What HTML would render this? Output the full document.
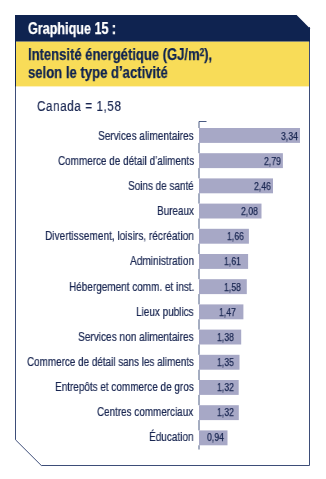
<!DOCTYPE html>
<html><head><meta charset="utf-8"><style>
html,body{margin:0;padding:0;background:#fff;width:326px;height:479px;overflow:hidden;position:relative}
.t{position:absolute;will-change:transform;font-family:"Liberation Sans",sans-serif;white-space:nowrap;line-height:1}
.h{color:#fff;-webkit-text-stroke:0.25px #fff;font-weight:bold;font-size:15.8px;transform-origin:0 0}
.y{color:#0f2350;-webkit-text-stroke:0.25px #0f2350;font-weight:bold;font-size:15.8px;transform-origin:0 0}
.c{letter-spacing:0.8px;color:#1a2752;-webkit-text-stroke:0.2px #1a2752;font-size:15.3px;transform-origin:0 0}
.l{color:#1a2752;-webkit-text-stroke:0.22px #1a2752;font-size:12.2px;transform-origin:0 0}
.v{color:#1a2752;-webkit-text-stroke:0.25px #1a2752;font-size:11px;transform-origin:0 0}
</style></head><body>
<svg width="326" height="479" style="position:absolute;left:0;top:0">
<rect x="16" y="41.4" width="293" height="45" fill="#f8dc58"/>
<path d="M15.5 41 L15.5 439.8 L41.3 465.5 L309.5 465.5 L309.5 27" fill="none" stroke="#3d4d78" stroke-width="1"/>
<path d="M15 15 L296.6 15 L310 28.4 L310 41.4 L15 41.4 Z" fill="#0f2350"/>
<line x1="15.5" y1="41" x2="15.5" y2="86.4" stroke="#0f2350" stroke-width="1"/>
<path d="M206.5 121.5 L199 121.5 L199 128.0" fill="none" stroke="#4a5a82" stroke-width="1"/>

<rect x="199" y="128.00" width="101.00" height="14.9" fill="#a7a8c6"/>
<line x1="199" y1="142.90" x2="199" y2="153.20" stroke="#4a5a82" stroke-width="1"/>
<rect x="199" y="153.20" width="83.90" height="14.9" fill="#a7a8c6"/>
<line x1="199" y1="168.10" x2="199" y2="178.40" stroke="#4a5a82" stroke-width="1"/>
<rect x="199" y="178.40" width="74.00" height="14.9" fill="#a7a8c6"/>
<line x1="199" y1="193.30" x2="199" y2="203.60" stroke="#4a5a82" stroke-width="1"/>
<rect x="199" y="203.60" width="62.50" height="14.9" fill="#a7a8c6"/>
<line x1="199" y1="218.50" x2="199" y2="228.80" stroke="#4a5a82" stroke-width="1"/>
<rect x="199" y="228.80" width="49.90" height="14.9" fill="#a7a8c6"/>
<line x1="199" y1="243.70" x2="199" y2="254.00" stroke="#4a5a82" stroke-width="1"/>
<rect x="199" y="254.00" width="49.10" height="14.9" fill="#a7a8c6"/>
<line x1="199" y1="268.90" x2="199" y2="279.20" stroke="#4a5a82" stroke-width="1"/>
<rect x="199" y="279.20" width="47.80" height="14.9" fill="#a7a8c6"/>
<line x1="199" y1="294.10" x2="199" y2="304.40" stroke="#4a5a82" stroke-width="1"/>
<rect x="199" y="304.40" width="44.40" height="14.9" fill="#a7a8c6"/>
<line x1="199" y1="319.30" x2="199" y2="329.60" stroke="#4a5a82" stroke-width="1"/>
<rect x="199" y="329.60" width="42.20" height="14.9" fill="#a7a8c6"/>
<line x1="199" y1="344.50" x2="199" y2="354.80" stroke="#4a5a82" stroke-width="1"/>
<rect x="199" y="354.80" width="40.50" height="14.9" fill="#a7a8c6"/>
<line x1="199" y1="369.70" x2="199" y2="380.00" stroke="#4a5a82" stroke-width="1"/>
<rect x="199" y="380.00" width="39.70" height="14.9" fill="#a7a8c6"/>
<line x1="199" y1="394.90" x2="199" y2="405.20" stroke="#4a5a82" stroke-width="1"/>
<rect x="199" y="405.20" width="39.80" height="14.9" fill="#a7a8c6"/>
<line x1="199" y1="420.10" x2="199" y2="430.40" stroke="#4a5a82" stroke-width="1"/>
<rect x="199" y="430.40" width="28.50" height="14.9" fill="#a7a8c6"/>
<line x1="199" y1="445.30" x2="199" y2="449.50" stroke="#4a5a82" stroke-width="1"/>
</svg>
<div class="t h" style="left:28.0px;top:20.63px;transform:scaleX(0.7966)">Graphique 15 :</div>
<div class="t y" style="left:28.0px;top:46.63px;transform:scaleX(0.825)">Intensité énergétique (GJ/m<span style="font-size:10px;position:relative;top:-4.5px">2</span>),</div>
<div class="t y" style="left:28.0px;top:64.63px;transform:scaleX(0.8294)">selon le type d’activité</div>
<div class="t c" style="left:37.0px;top:98.25px;transform:scaleX(0.76)">Canada = 1,58</div>
<div class="t l" style="left:97.87px;top:129.87px;transform:scaleX(0.8252)">Services alimentaires</div>
<div class="t v" style="left:280.80px;top:130.89px;transform:scaleX(0.79)">3,34</div>
<div class="t l" style="left:57.70px;top:154.98px;transform:scaleX(0.8138)">Commerce de détail d’aliments</div>
<div class="t v" style="left:263.60px;top:156.00px;transform:scaleX(0.79)">2,79</div>
<div class="t l" style="left:128.38px;top:180.09px;transform:scaleX(0.8152)">Soins de santé</div>
<div class="t v" style="left:253.90px;top:181.11px;transform:scaleX(0.79)">2,46</div>
<div class="t l" style="left:156.99px;top:205.20px;transform:scaleX(0.8136)">Bureaux</div>
<div class="t v" style="left:241.30px;top:206.22px;transform:scaleX(0.79)">2,08</div>
<div class="t l" style="left:45.17px;top:230.31px;transform:scaleX(0.8292)">Divertissement, loisirs, récréation</div>
<div class="t v" style="left:226.60px;top:231.33px;transform:scaleX(0.79)">1,66</div>
<div class="t l" style="left:129.80px;top:255.42px;transform:scaleX(0.8286)">Administration</div>
<div class="t v" style="left:224.30px;top:256.44px;transform:scaleX(0.79)">1,61</div>
<div class="t l" style="left:69.18px;top:280.53px;transform:scaleX(0.8185)">Hébergement comm. et inst.</div>
<div class="t v" style="left:224.30px;top:281.55px;transform:scaleX(0.79)">1,58</div>
<div class="t l" style="left:136.28px;top:305.64px;transform:scaleX(0.8188)">Lieux publics</div>
<div class="t v" style="left:219.20px;top:306.66px;transform:scaleX(0.79)">1,47</div>
<div class="t l" style="left:78.37px;top:330.75px;transform:scaleX(0.8290)">Services non alimentaires</div>
<div class="t v" style="left:217.00px;top:331.77px;transform:scaleX(0.79)">1,38</div>
<div class="t l" style="left:26.60px;top:355.86px;transform:scaleX(0.8107)">Commerce de détail sans les aliments</div>
<div class="t v" style="left:217.00px;top:356.88px;transform:scaleX(0.79)">1,35</div>
<div class="t l" style="left:54.88px;top:380.97px;transform:scaleX(0.8160)">Entrepôts et commerce de gros</div>
<div class="t v" style="left:216.80px;top:381.99px;transform:scaleX(0.79)">1,32</div>
<div class="t l" style="left:97.10px;top:406.08px;transform:scaleX(0.8109)">Centres commerciaux</div>
<div class="t v" style="left:217.00px;top:407.10px;transform:scaleX(0.79)">1,32</div>
<div class="t l" style="left:149.28px;top:431.19px;transform:scaleX(0.8208)">Éducation</div>
<div class="t v" style="left:206.70px;top:432.21px;transform:scaleX(0.79)">0,94</div>
</body></html>
